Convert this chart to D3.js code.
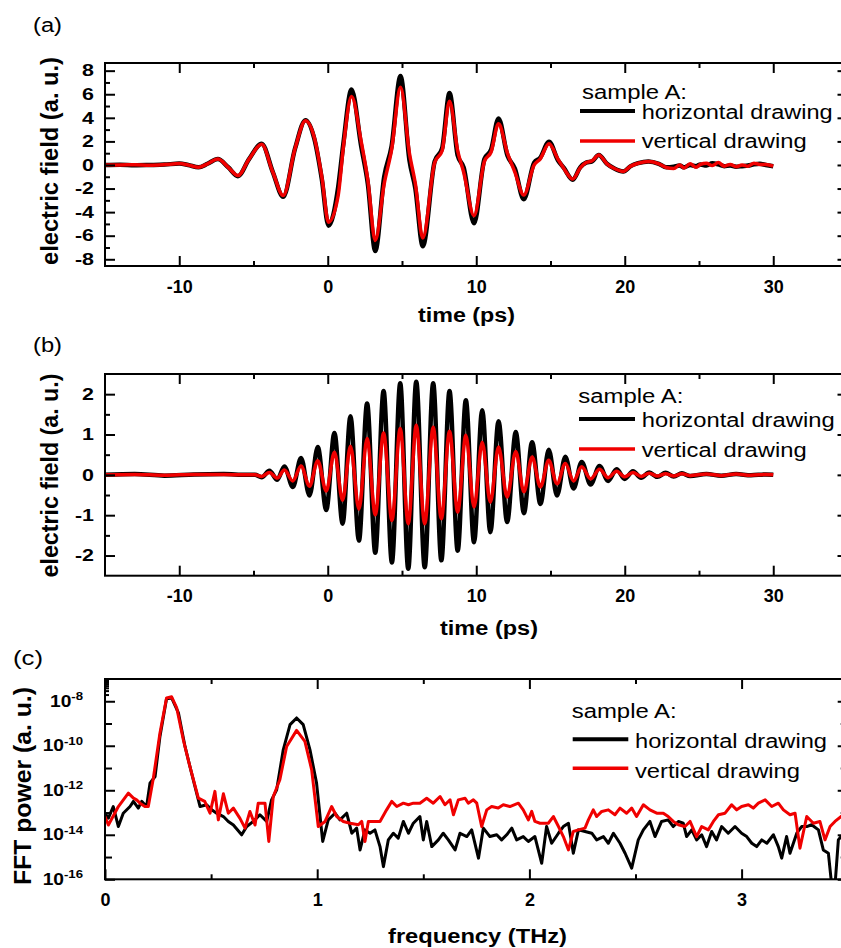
<!DOCTYPE html>
<html><head><meta charset="utf-8">
<script src="https://cdn.jsdelivr.net/npm/d3@7"></script>
<style>
body{margin:0;background:#fff}
svg{display:block;font-family:"Liberation Sans",Arial,Helvetica,sans-serif}
</style>
</head><body><script>
// ---------------- DATA ----------------
const seriesNames = ["horizontal drawing", "vertical drawing"];
const legendTitle = "sample A:";
const panelLabels = ["(a)", "(b)", "(c)"];
const timeTitle = "time (ps)";
const freqTitle = "frequency (THz)";
const fieldTitle = "electric field (a. u.)";
const fftTitle = "FFT power (a. u.)";

const timeTicksMajor = [-10, 0, 10, 20, 30];
const timeTicksMinor = [-5, 5, 15, 25];
const fieldATicksMajor = [-8, -6, -4, -2, 0, 2, 4, 6, 8];
const fieldATicksMinor = [-7, -5, -3, -1, 1, 3, 5, 7];
const fieldBTicksMajor = [-2, -1, 0, 1, 2];
const fieldBTicksMinor = [-1.5, -0.5, 0.5, 1.5];
const freqTicksMajor = [0, 1, 2, 3];
const freqTicksMinor = [0.5, 1.5, 2.5];
const powerTicksMajor = [1e-16, 1e-14, 1e-12, 1e-10, 1e-8];
const powerTicksMid = [1e-15, 1e-13, 1e-11, 1e-9];
const powerTicksMinor = [2e-8, 3e-8, 4e-8, 5e-8, 6e-8, 7e-8, 8e-8, 9e-8];

// (a) electric field vs time
const timeA = [-15,-14,-13,-12,-11,-10,-9.4,-8.7,-8.1,-7.4,-6.7,-6.05,-5.3,-4.45,-3.7,-3.0,-2.2,-1.5,-0.9,-0.4,0.05,0.7,1.05,1.6,2.25,2.7,3.2,3.8,4.3,4.9,5.5,5.9,6.4,7.2,7.7,8.2,8.75,9.15,9.85,10.55,11.0,11.5,12.1,12.6,13.2,13.9,14.3,14.9,15.5,15.9,16.5,17.0,17.4,17.8,18.25,18.8,19.3,19.9,20.4,20.9,21.6,22.3,22.8,23.3,23.7,24.0,24.4,24.8,25.1,25.5,25.9,26.3,26.7,27.1,27.5,27.9,28.3,28.7,29.1,29.5,30.0];
const fieldA_horizontal = [0,0.02,-0.02,0,0.03,0.12,0,-0.2,0.1,0.5,-0.2,-0.95,0.5,1.8,-0.6,-2.7,1.4,3.8,2.2,-1.2,-5.15,-1.9,1.8,6.4,1.6,-1.6,-7.3,-1.0,1.6,7.55,0.4,-2.0,-6.9,0.3,1.4,6.1,0.8,-0.2,-4.95,0.5,1.3,3.95,0.8,-0.3,-2.9,0.2,0.6,1.98,0.4,-0.25,-1.25,-0.2,0.2,0.3,0.85,0.1,-0.3,-0.55,-0.1,0.15,0.3,0.1,-0.2,-0.15,-0.05,-0.2,0,-0.1,0.05,-0.05,0.15,0.05,-0.1,-0.05,-0.15,-0.1,-0.05,0.05,0.1,0,-0.1];
const fieldA_vertical = [0,0,0.02,-0.02,0.03,0.12,0,-0.2,0.1,0.5,-0.2,-0.9,0.5,1.75,-0.6,-2.6,1.4,3.75,2.3,-1.0,-4.85,-2.6,1.5,5.8,2.0,-1.3,-6.4,-1.6,1.3,6.6,1.0,-1.6,-6.2,0.2,1.2,5.4,1.2,-0.6,-4.3,0.3,1.1,3.5,1.0,-0.6,-2.55,0,0.5,1.8,0.5,-0.3,-1.2,-0.25,0.2,0.35,0.85,0.1,-0.3,-0.55,-0.1,0.15,0.3,0.1,-0.22,-0.3,0,-0.25,0.1,-0.2,0.05,0.15,-0.05,0.2,-0.1,0.05,-0.15,0,-0.1,0.15,0.05,0.05,-0.1];

// (b) electric field vs time
const timeB = [-15,-13,-11,-9,-7,-5.5,-4.9,-4.45,-3.93,-3.4,-2.92,-2.35,-1.8,-1.23,-0.67,-0.1,0.45,1.0,1.53,2.1,2.65,3.2,3.76,4.32,4.88,5.42,5.96,6.53,7.1,7.65,8.2,8.75,9.3,9.85,10.4,10.95,11.5,12.08,12.66,13.21,13.76,14.32,14.88,15.44,16.0,16.55,17.1,17.7,18.3,18.88,19.45,20.0,20.55,21.1,21.65,22.2,22.75,23.3,23.85,24.4,25.5,26.5,27.5,28.5,29.5,30];
const fieldB_horizontal = [0,0.02,-0.02,0.01,0.02,0,0,-0.06,0.1,-0.12,0.21,-0.3,0.42,-0.51,0.69,-0.87,1.04,-1.21,1.45,-1.63,1.77,-1.93,2.08,-2.17,2.27,-2.33,2.31,-2.29,2.27,-2.12,2.08,-1.88,1.85,-1.67,1.6,-1.42,1.33,-1.17,1.06,-0.95,0.81,-0.72,0.62,-0.51,0.45,-0.34,0.32,-0.24,0.22,-0.15,0.14,-0.1,0.09,-0.07,0.06,-0.05,0.05,-0.04,0.04,-0.03,0.02,-0.02,0.02,-0.01,0.01,0];
const fieldB_vertical = [0,0.01,-0.01,0.01,0.01,0,0,-0.04,0.06,-0.08,0.12,-0.15,0.22,-0.28,0.35,-0.4,0.56,-0.63,0.71,-0.85,0.9,-0.99,1.04,-1.13,1.15,-1.21,1.23,-1.21,1.18,-1.09,1.08,-0.92,0.98,-0.8,0.81,-0.68,0.69,-0.55,0.58,-0.42,0.44,-0.3,0.36,-0.22,0.28,-0.15,0.2,-0.1,0.14,-0.07,0.09,-0.05,0.06,-0.04,0.04,-0.03,0.03,-0.03,0.03,-0.02,0.02,-0.02,0.02,-0.01,0.01,0];

// (c) FFT power: frequency (THz) and log10 of power (a. u.)
const freqC_horizontal = [0,0.016,0.039,0.063,0.086,0.118,0.134,0.157,0.173,0.196,0.212,0.236,0.259,0.29,0.314,0.346,0.377,0.408,0.448,0.479,0.503,0.526,0.558,0.581,0.605,0.644,0.668,0.699,0.73,0.762,0.785,0.809,0.84,0.872,0.903,0.934,0.966,0.997,1.026,1.052,1.084,1.107,1.139,1.163,1.186,1.202,1.225,1.249,1.272,1.296,1.312,1.335,1.359,1.382,1.406,1.43,1.453,1.484,1.5,1.516,1.54,1.571,1.594,1.618,1.65,1.673,1.705,1.728,1.76,1.783,1.814,1.846,1.869,1.893,1.917,1.94,1.971,1.995,2.026,2.058,2.081,2.105,2.137,2.16,2.184,2.207,2.231,2.262,2.294,2.317,2.349,2.372,2.396,2.427,2.451,2.482,2.513,2.537,2.568,2.592,2.623,2.654,2.678,2.702,2.725,2.741,2.765,2.788,2.812,2.835,2.859,2.882,2.906,2.937,2.969,3.0,3.024,3.048,3.071,3.095,3.119,3.15,3.173,3.189,3.212,3.228,3.26,3.283,3.307,3.33,3.362,3.385,3.409,3.425,3.44,3.456,3.468,3.5];
const log10PowerC_horizontal = [-13.03,-13.25,-12.73,-13.63,-13.03,-12.73,-12.5,-12.8,-12.5,-12.73,-11.68,-11.38,-9.58,-7.89,-7.85,-8.52,-10.03,-11.23,-12.73,-12.65,-12.88,-13.03,-13.18,-13.4,-13.56,-14.0,-13.63,-13.4,-13.1,-13.4,-12.43,-11.98,-10.18,-9.05,-8.75,-9.05,-10.18,-11.68,-14.3,-13.33,-13.03,-13.33,-13.03,-13.93,-13.7,-14.68,-13.78,-13.93,-13.78,-14.53,-15.43,-14.23,-13.93,-14.15,-13.4,-13.93,-13.48,-13.18,-14.23,-13.4,-14.53,-14.23,-13.93,-14.23,-14.68,-13.93,-14.08,-13.78,-15.05,-13.7,-14.08,-14.0,-14.23,-14.0,-13.7,-14.23,-14.08,-14.3,-14.08,-15.28,-13.63,-14.38,-13.93,-13.63,-13.48,-14.83,-13.78,-13.85,-13.93,-14.23,-14.08,-14.38,-13.93,-14.38,-14.83,-15.5,-14.23,-13.78,-13.4,-14.08,-13.4,-13.33,-13.63,-13.4,-13.48,-14.08,-13.78,-14.23,-14.0,-14.53,-13.85,-14.23,-13.63,-13.93,-13.63,-13.93,-14.08,-14.38,-14.53,-14.23,-14.38,-14.0,-14.53,-15.05,-14.08,-14.83,-13.93,-13.63,-13.63,-13.55,-13.78,-14.68,-14.83,-16.3,-16.3,-14.23,-14.08,-13.9];
const freqC_vertical = [0,0.016,0.063,0.11,0.134,0.149,0.165,0.188,0.204,0.228,0.259,0.29,0.314,0.338,0.369,0.4,0.44,0.47,0.495,0.518,0.534,0.558,0.581,0.605,0.636,0.66,0.683,0.707,0.722,0.754,0.772,0.793,0.824,0.856,0.903,0.942,0.974,1.005,1.037,1.068,1.092,1.123,1.155,1.194,1.21,1.225,1.241,1.272,1.296,1.327,1.351,1.375,1.406,1.43,1.453,1.484,1.516,1.547,1.579,1.602,1.626,1.642,1.665,1.697,1.712,1.736,1.752,1.775,1.799,1.822,1.853,1.877,1.908,1.948,1.971,1.995,2.011,2.026,2.05,2.089,2.113,2.137,2.16,2.184,2.207,2.231,2.262,2.278,2.301,2.317,2.341,2.372,2.403,2.427,2.458,2.482,2.505,2.537,2.568,2.6,2.631,2.654,2.678,2.702,2.733,2.757,2.788,2.812,2.843,2.867,2.891,2.922,2.953,2.977,3.0,3.032,3.055,3.079,3.111,3.142,3.173,3.197,3.228,3.252,3.275,3.307,3.338,3.369,3.393,3.417,3.44,3.468,3.5];
const log10PowerC_vertical = [-13.18,-13.56,-12.73,-12.13,-12.35,-12.43,-12.58,-12.73,-12.73,-11.45,-9.43,-7.85,-7.8,-8.3,-9.73,-10.93,-12.35,-12.5,-13.03,-12.05,-13.33,-12.16,-13.03,-12.8,-13.26,-13.7,-12.95,-13.56,-12.58,-12.58,-14.3,-12.28,-11.53,-10.03,-9.31,-9.8,-11.08,-13.63,-13.4,-12.73,-13.18,-13.4,-13.48,-13.55,-13.4,-14.3,-13.4,-13.4,-13.4,-12.88,-12.5,-12.73,-12.58,-12.65,-12.58,-12.58,-12.36,-12.58,-12.28,-12.65,-12.43,-13.1,-12.43,-12.36,-12.58,-12.43,-12.58,-13.63,-12.88,-12.73,-12.8,-12.65,-12.73,-12.58,-12.88,-13.33,-12.95,-13.4,-13.48,-13.48,-13.18,-13.63,-14.08,-14.68,-13.85,-13.78,-13.7,-13.33,-12.88,-13.18,-12.95,-12.88,-13.1,-12.8,-13.03,-12.8,-13.18,-12.65,-12.88,-13.03,-13.03,-13.18,-13.4,-13.55,-13.63,-13.4,-14.08,-13.63,-13.78,-13.4,-13.1,-13.03,-12.65,-12.88,-12.73,-12.65,-12.8,-12.58,-12.43,-12.73,-12.58,-12.88,-13.1,-13.03,-14.6,-13.18,-13.48,-13.4,-14.23,-13.63,-13.4,-13.18,-13.1];

// ---------------- DRAWING ----------------
const W = 841, H = 948;
const colors = ["#000000", "#f00000"];
const svg = d3.select("body").append("svg").attr("width", W).attr("height", H);
const defs = svg.append("defs");

function frameAxes(g, x, y, box, opt) {
  const {left, right, top, bottom} = box;
  const style = sel => { sel.select(".domain").remove(); sel.selectAll("line").attr("stroke", "#000").attr("stroke-width", 2); };
  // bottom
  const bx = g.append("g").attr("transform", `translate(0,${bottom})`)
    .call(d3.axisBottom(x).tickValues(opt.xMajor).tickSizeInner(-10).tickSizeOuter(0).tickPadding(14).tickFormat(opt.xFmt));
  style(bx);
  bx.selectAll("text").attr("font-size", 18).attr("font-weight", "bold").attr("fill", "#000");
  g.append("g").attr("transform", `translate(0,${bottom})`)
    .call(d3.axisBottom(x).tickValues(opt.xMinor).tickSizeInner(-5).tickSizeOuter(0).tickFormat("")).call(style);
  // top
  g.append("g").attr("transform", `translate(0,${top})`)
    .call(d3.axisTop(x).tickValues(opt.xMajor).tickSizeInner(-10).tickSizeOuter(0).tickFormat("")).call(style);
  g.append("g").attr("transform", `translate(0,${top})`)
    .call(d3.axisTop(x).tickValues(opt.xMinor).tickSizeInner(-5).tickSizeOuter(0).tickFormat("")).call(style);
  // left
  const ly = g.append("g").attr("transform", `translate(${left},0)`)
    .call(d3.axisLeft(y).tickValues(opt.yMajor).tickSizeInner(-10).tickSizeOuter(0).tickPadding(opt.yPad).tickFormat(opt.yFmt));
  style(ly);
  ly.selectAll("text").attr("font-size", opt.yFont).attr("font-weight", "bold").attr("fill", "#000")
    .attr("transform", `scale(${opt.yStretch},1)`);
  if (opt.yLabelFn) ly.selectAll("text").each(opt.yLabelFn);
  opt.yMinorSets.forEach(([vals, len]) => {
    g.append("g").attr("transform", `translate(${left},0)`)
      .call(d3.axisLeft(y).tickValues(vals).tickSizeInner(-len).tickSizeOuter(0).tickFormat("")).call(style);
    g.append("g").attr("transform", `translate(${right},0)`)
      .call(d3.axisRight(y).tickValues(vals).tickSizeInner(-len).tickSizeOuter(0).tickFormat("")).call(style);
  });
  // right
  g.append("g").attr("transform", `translate(${right},0)`)
    .call(d3.axisRight(y).tickValues(opt.yMajor).tickSizeInner(-10).tickSizeOuter(0).tickFormat("")).call(style);
  // frame
  g.append("rect").attr("x", left).attr("y", top).attr("width", right - left).attr("height", bottom - top)
    .attr("fill", "none").attr("stroke", "#000").attr("stroke-width", 2);
}

function legend(g, pos) {
  g.append("text").attr("x", pos.tx0).attr("y", pos.y0).attr("font-size", 20)
    .attr("textLength", pos.w0).attr("lengthAdjust", "spacingAndGlyphs").text(legendTitle);
  seriesNames.forEach((name, i) => {
    g.append("line").attr("x1", pos.lx1).attr("x2", pos.lx2).attr("y1", pos.ly[i]).attr("y2", pos.ly[i])
      .attr("stroke", colors[i]).attr("stroke-width", i === 0 ? 4 : 3.5);
    g.append("text").attr("x", pos.tx).attr("y", pos.ty[i]).attr("font-size", 20)
      .attr("textLength", pos.tw[i]).attr("lengthAdjust", "spacingAndGlyphs").text(name);
  });
}

function textAt(x, y, str, size, weight, len, rotate) {
  const t = svg.append("text").attr("font-size", size).attr("font-weight", weight)
    .attr("text-anchor", rotate ? "middle" : "start")
    .attr("textLength", len).attr("lengthAdjust", "spacingAndGlyphs").text(str);
  if (rotate) t.attr("transform", `translate(${x},${y}) rotate(-90)`);
  else t.attr("x", x).attr("y", y);
  return t;
}

const intFmt = d => String(d);

// ---- Panel (a)
{
  const box = {left: 105, right: 847.5, top: 63, bottom: 266};
  const x = d3.scaleLinear().domain([-15, 35]).range([box.left, box.right]);
  const y = d3.scaleLinear().domain([-8.57, 8.65]).range([box.bottom, box.top]);
  const g = svg.append("g");
  defs.append("clipPath").attr("id", "clipA").append("rect").attr("x", box.left).attr("y", box.top).attr("width", box.right - box.left).attr("height", box.bottom - box.top);
  const line = d3.line().x(d => x(d[0])).y(d => y(d[1])).curve(d3.curveMonotoneX);
  const pl = g.append("g").attr("clip-path", "url(#clipA)");
  pl.append("path").datum(d3.zip(timeA, fieldA_horizontal)).attr("d", line).attr("fill", "none").attr("stroke", colors[0]).attr("stroke-width", 4.5).attr("stroke-linejoin", "round");
  pl.append("path").datum(d3.zip(timeA, fieldA_vertical)).attr("d", line).attr("fill", "none").attr("stroke", colors[1]).attr("stroke-width", 3.5).attr("stroke-linejoin", "round");
  frameAxes(g, x, y, box, {xMajor: timeTicksMajor, xMinor: timeTicksMinor, xFmt: intFmt,
    yMajor: fieldATicksMajor, yFmt: intFmt, yPad: 8.5, yFont: 16.5, yStretch: 1.3,
    yMinorSets: [[fieldATicksMinor, 5]]});
  legend(g, {tx0: 582, y0: 99, w0: 105, lx1: 580, lx2: 635, ly: [111, 141], tx: 641.7, ty: [119, 148.3], tw: [191, 165]});
  textAt(466.5, 322, timeTitle, 20, "bold", 97).attr("text-anchor", "middle").attr("x", 466.5);
  textAt(57.5, 161, fieldTitle, 24, "bold", 208, true);
  textAt(33, 32, panelLabels[0], 20, "normal", 29);
}

// ---- Panel (b)
{
  const box = {left: 105, right: 847.5, top: 374, bottom: 575.7};
  const x = d3.scaleLinear().domain([-15, 35]).range([box.left, box.right]);
  const y = d3.scaleLinear().domain([-2.5, 2.5]).range([box.bottom, box.top]);
  const g = svg.append("g");
  defs.append("clipPath").attr("id", "clipB").append("rect").attr("x", box.left).attr("y", box.top).attr("width", box.right - box.left).attr("height", box.bottom - box.top);
  const line = d3.line().x(d => x(d[0])).y(d => y(d[1])).curve(d3.curveMonotoneX);
  const pl = g.append("g").attr("clip-path", "url(#clipB)");
  pl.append("path").datum(d3.zip(timeB, fieldB_horizontal)).attr("d", line).attr("fill", "none").attr("stroke", colors[0]).attr("stroke-width", 4.5).attr("stroke-linejoin", "round");
  pl.append("path").datum(d3.zip(timeB, fieldB_vertical)).attr("d", line).attr("fill", "none").attr("stroke", colors[1]).attr("stroke-width", 3.5).attr("stroke-linejoin", "round");
  frameAxes(g, x, y, box, {xMajor: timeTicksMajor, xMinor: timeTicksMinor, xFmt: intFmt,
    yMajor: fieldBTicksMajor, yFmt: intFmt, yPad: 8.5, yFont: 16.5, yStretch: 1.3,
    yMinorSets: [[fieldBTicksMinor, 5]]});
  legend(g, {tx0: 578.3, y0: 403.3, w0: 105, lx1: 579, lx2: 635, ly: [419, 449], tx: 641.7, ty: [426.7, 456.7], tw: [193, 165]});
  textAt(489, 635, timeTitle, 20, "bold", 98).attr("text-anchor", "middle").attr("x", 489);
  textAt(57.5, 475.5, fieldTitle, 24, "bold", 204, true);
  textAt(33, 352, panelLabels[1], 20, "normal", 29);
}

// ---- Panel (c)
{
  const box = {left: 105, right: 847.7, top: 679, bottom: 879.3};
  const x = d3.scaleLinear().domain([0, 3.5]).range([box.left, box.right]);
  const y = d3.scaleLog().domain([1e-16, 1e-7]).range([box.bottom, box.top]);
  const g = svg.append("g");
  defs.append("clipPath").attr("id", "clipC").append("rect").attr("x", box.left).attr("y", box.top).attr("width", box.right - box.left).attr("height", box.bottom - box.top);
  const line = d3.line().x(d => x(d[0])).y(d => y(Math.pow(10, d[1]))).curve(d3.curveLinear);
  const pl = g.append("g").attr("clip-path", "url(#clipC)");
  pl.append("path").datum(d3.zip(freqC_horizontal, log10PowerC_horizontal)).attr("d", line).attr("fill", "none").attr("stroke", colors[0]).attr("stroke-width", 3).attr("stroke-linejoin", "round");
  pl.append("path").datum(d3.zip(freqC_vertical, log10PowerC_vertical)).attr("d", line).attr("fill", "none").attr("stroke", colors[1]).attr("stroke-width", 3).attr("stroke-linejoin", "round");
  const stretch = 1.2;
  frameAxes(g, x, y, box, {xMajor: freqTicksMajor, xMinor: freqTicksMinor, xFmt: intFmt,
    yMajor: powerTicksMajor, yFmt: () => "", yPad: 22 / stretch, yFont: 16, yStretch: stretch,
    yLabelFn: function(d) {
      const t = d3.select(this);
      t.append("tspan").text("10");
      t.append("tspan").attr("dy", "-0.6em").attr("font-size", 11).text(String(Math.round(Math.log10(d))));
    },
    yMinorSets: [[powerTicksMid, 7], [powerTicksMinor, 4]]});
  legend(g, {tx0: 571.7, y0: 718.3, w0: 105, lx1: 572.7, lx2: 628.3, ly: [739.3, 768.3], tx: 635, ty: [748.3, 777.7], tw: [192, 165]});
  textAt(477.5, 943, freqTitle, 20, "bold", 179).attr("text-anchor", "middle").attr("x", 477.5);
  textAt(31, 786, fftTitle, 24, "bold", 198, true);
  textAt(13, 665, panelLabels[2], 20, "normal", 30);
}
</script></body></html>
